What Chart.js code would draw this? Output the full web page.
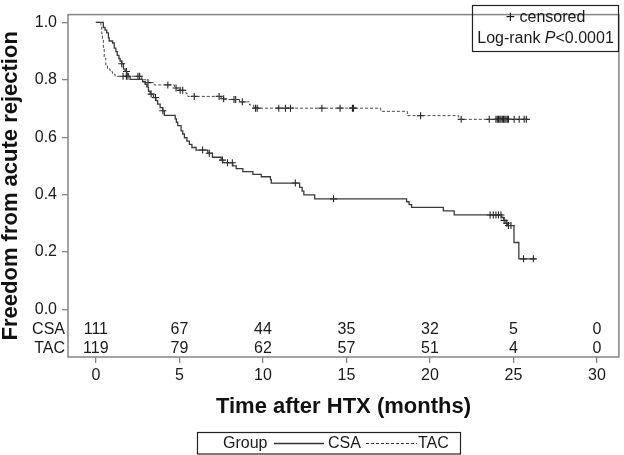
<!DOCTYPE html>
<html>
<head>
<meta charset="utf-8">
<script src="https://cdn.jsdelivr.net/npm/chart.js@4.4.1/dist/chart.umd.min.js"></script>
<style>
  html, body { margin: 0; padding: 0; background: #ffffff; }
  #wrap { width: 624px; height: 455px; }
</style>
</head>
<body>
<div id="wrap"><canvas id="c" width="624" height="455"></canvas></div>
<script>
// ---- data ----
const xTicks = [0, 5, 10, 15, 20, 25, 30];
const yTicks = [0, 0.2, 0.4, 0.6, 0.8, 1.0];
const groups = ['CSA', 'TAC'];
const atRiskCSA = [111, 67, 44, 35, 32, 5, 0];
const atRiskTAC = [119, 79, 62, 57, 51, 4, 0];

// Kaplan-Meier steps: time (months) and survival after that time
const csaTimes = [0,0.45,0.55,0.65,0.75,0.8,1.0,1.1,1.2,1.28,1.38,1.45,1.55,1.65,1.75,1.85,1.95,2.05,2.8,2.95,3.05,3.15,3.25,3.45,3.6,3.7,3.85,4.0,4.1,4.75,4.82,4.9,5.1,5.2,5.3,5.45,5.6,5.75,6.0,6.7,6.98,7.5,7.6,8.2,8.4,8.8,9.4,9.9,10.45,10.5,12.2,12.35,12.45,13.1,18.6,18.75,18.9,20.8,21.45,24.3,24.42,24.55,24.65,25.03,25.32,26.33];
const csaSurv  = [1,0.982,0.973,0.963,0.946,0.935,0.928,0.910,0.898,0.885,0.874,0.865,0.856,0.838,0.829,0.820,0.811,0.801,0.793,0.784,0.775,0.760,0.750,0.738,0.727,0.715,0.703,0.692,0.676,0.664,0.652,0.640,0.622,0.611,0.598,0.586,0.575,0.564,0.555,0.544,0.530,0.520,0.511,0.500,0.490,0.480,0.470,0.462,0.452,0.440,0.425,0.412,0.399,0.385,0.375,0.365,0.355,0.343,0.329,0.320,0.310,0.300,0.292,0.233,0.176,0.176];
const csaCensorTimes = [1.55,1.83,3.31,3.57,4.01,6.39,6.79,7.58,7.88,8.17,11.94,14.23,23.6,23.79,23.95,24.1,24.25,24.44,24.6,24.7,24.85,25.6,26.19];

const tacTimes = [0,0.3,0.35,0.4,0.45,0.5,0.6,0.7,0.85,1.0,1.15,2.75,3.0,3.5,4.7,5.0,5.4,5.5,7.5,7.7,8.6,9.2,9.45,17.05,18.65,21.72,25.83];
const tacSurv  = [1,0.985,0.96,0.94,0.91,0.875,0.85,0.838,0.828,0.820,0.812,0.800,0.790,0.782,0.771,0.763,0.752,0.742,0.734,0.731,0.723,0.712,0.701,0.690,0.675,0.662,0.662];
const tacCensorTimes = [1.63,1.83,1.92,2.52,2.62,3.12,4.31,4.8,5.05,5.2,5.89,7.38,7.65,8.27,8.37,8.77,9.56,9.66,10.95,11.35,11.65,13.53,14.62,15.36,15.42,19.44,21.87,23.55,23.95,24.03,24.1,24.18,24.25,24.33,24.4,24.48,24.55,24.63,24.7,25.04,25.34,25.64,25.77];

// ---- helpers ----
function survAt(times, surv, t) {
  let v = surv[0];
  for (let i = 0; i < times.length; i++) { if (times[i] <= t) v = surv[i]; }
  return v;
}
const pts = (times, surv) => times.map((t, i) => ({ x: t, y: surv[i] }));
const cens = (ct, times, surv) => ct.map(t => ({ x: t, y: survAt(times, surv, t) }));

const FONT = "'Liberation Sans', Arial, Helvetica, sans-serif";
const AXIS = '#858585';

const framePlugin = {
  id: 'extras',
  afterDraw(chart) {
    const { ctx, chartArea: a, scales: { x, y } } = chart;
    ctx.save();
    // frame
    ctx.strokeStyle = AXIS; ctx.lineWidth = 1.5;
    ctx.strokeRect(a.left, a.top, a.right - a.left, a.bottom - a.top);

    // numbers at risk
    ctx.fillStyle = '#1a1a1a';
    ctx.font = '16px ' + FONT;
    ctx.textBaseline = 'middle';
    const rows = [atRiskCSA, atRiskTAC];
    const rowVals = [-0.072, -0.136];
    rows.forEach((row, r) => {
      const py = y.getPixelForValue(rowVals[r]);
      ctx.textAlign = 'right';
      ctx.fillText(groups[r], a.left - 3, py);
      ctx.textAlign = 'center';
      row.forEach((n, i) => ctx.fillText(String(n), x.getPixelForValue(xTicks[i]), py));
    });

    // top-right annotation box
    ctx.strokeStyle = '#222'; ctx.lineWidth = 1.2;
    const bx = 472.5, by = 5.5, bw = 146, bh = 46;
    ctx.strokeRect(bx, by, bw, bh);
    const cx = bx + bw / 2;
    ctx.textAlign = 'center';
    ctx.font = '16px ' + FONT;
    ctx.fillText('+ censored', cx, by + 12);
    const s1 = 'Log-rank ', s2 = 'P', s3 = '<0.0001';
    ctx.font = '16px ' + FONT; const w1 = ctx.measureText(s1).width, w3 = ctx.measureText(s3).width;
    ctx.font = 'italic 16px ' + FONT; const w2 = ctx.measureText(s2).width;
    let sx = cx - (w1 + w2 + w3) / 2; const ly = by + 33;
    ctx.textAlign = 'left';
    ctx.font = '16px ' + FONT; ctx.fillText(s1, sx, ly); sx += w1;
    ctx.font = 'italic 16px ' + FONT; ctx.fillText(s2, sx, ly); sx += w2;
    ctx.font = '16px ' + FONT; ctx.fillText(s3, sx, ly);

    // bottom legend
    ctx.strokeStyle = '#222'; ctx.lineWidth = 1.2;
    ctx.strokeRect(197.5, 432.5, 263, 21.5);
    const gy = 443.5;
    ctx.font = '16px ' + FONT; ctx.textAlign = 'left';
    ctx.fillText('Group', 223, gy);
    ctx.strokeStyle = '#333'; ctx.lineWidth = 1.3;
    ctx.beginPath(); ctx.moveTo(274, gy); ctx.lineTo(324, gy); ctx.stroke();
    ctx.fillText(groups[0], 328, gy);
    ctx.lineWidth = 1; ctx.setLineDash([3, 2]);
    ctx.beginPath(); ctx.moveTo(366, gy); ctx.lineTo(417, gy); ctx.stroke();
    ctx.setLineDash([]);
    ctx.fillText(groups[1], 418, gy);
    ctx.restore();
  }
};

new Chart(document.getElementById('c'), {
  type: 'line',
  data: {
    datasets: [
      { label: 'CSA', data: pts(csaTimes, csaSurv), stepped: 'before', borderColor: '#3a3a3a', borderWidth: 1.3, pointRadius: 0, fill: false },
      { label: 'TAC', data: pts(tacTimes, tacSurv), stepped: 'before', borderColor: '#4a4a4a', borderWidth: 1, borderDash: [3, 2], pointRadius: 0, fill: false },
      { label: 'CSA censored', data: cens(csaCensorTimes, csaTimes, csaSurv), showLine: false, pointStyle: 'cross', pointRadius: 3.5, pointBorderWidth: 1.1, pointBorderColor: '#222', pointBackgroundColor: '#222' },
      { label: 'TAC censored', data: cens(tacCensorTimes, tacTimes, tacSurv), showLine: false, pointStyle: 'cross', pointRadius: 3.5, pointBorderWidth: 1.1, pointBorderColor: '#222', pointBackgroundColor: '#222' }
    ]
  },
  options: {
    responsive: false,
    animation: false,
    devicePixelRatio: 1,
    layout: { padding: { left: 0, right: 2, top: 1, bottom: 36 } },
    plugins: { legend: { display: false }, tooltip: { enabled: false } },
    scales: {
      x: {
        type: 'linear', min: -1.667, max: 31.31,
        afterBuildTicks: s => { s.ticks = xTicks.map(v => ({ value: v })); },
        afterFit: s => { s.height = 62; },
        grid: { drawOnChartArea: false, drawTicks: true, tickLength: 6, color: AXIS, lineWidth: 1.3 },
        border: { display: false },
        ticks: { padding: 3, color: '#1a1a1a', font: { family: FONT, size: 16 }, maxRotation: 0, autoSkip: false },
        title: { display: true, text: 'Time after HTX (months)', color: '#111', font: { family: FONT, size: 22, weight: 'bold', lineHeight: 1 }, padding: { top: 0, bottom: 1 } }
      },
      y: {
        type: 'linear', min: -0.166, max: 1.027,
        afterBuildTicks: s => { s.ticks = yTicks.map(v => ({ value: v })); },
        afterFit: s => { s.width = 68; },
        grid: { drawOnChartArea: false, drawTicks: true, tickLength: 6, color: AXIS, lineWidth: 1.3 },
        border: { display: false },
        ticks: { padding: 5, color: '#1a1a1a', font: { family: FONT, size: 16 }, callback: v => Number(v).toFixed(1) },
        title: { display: true, text: 'Freedom from acute rejection', color: '#111', font: { family: FONT, size: 22, weight: 'bold', lineHeight: 1 }, padding: { top: 0, bottom: 0 } }
      }
    }
  },
  plugins: [framePlugin]
});
</script>
</body>
</html>
